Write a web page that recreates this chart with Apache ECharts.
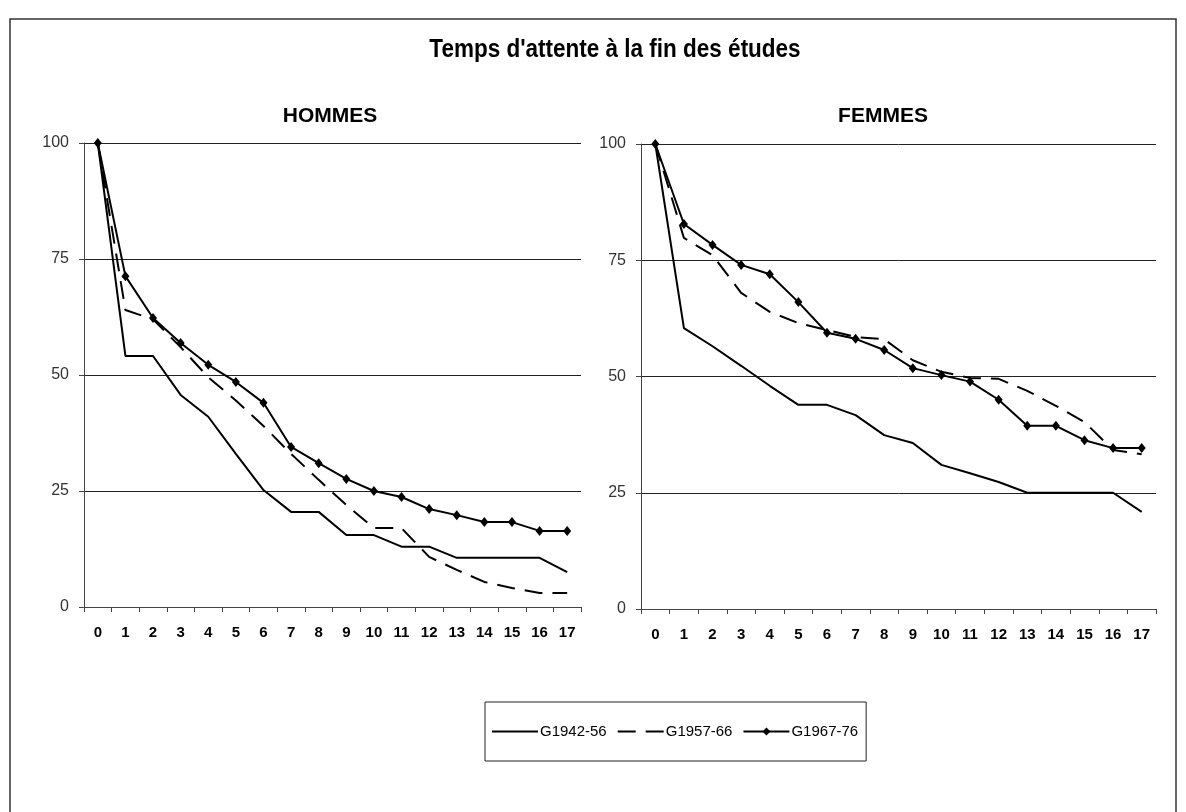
<!DOCTYPE html>
<html>
<head>
<meta charset="utf-8">
<title>Temps d'attente à la fin des études</title>
<script src="https://cdn.jsdelivr.net/npm/echarts@6/dist/echarts.min.js"></script>
<style>
  html, body { margin: 0; padding: 0; background: #fff; }
  #chart { width: 1186px; height: 812px; }
</style>
</head>
<body>
<div id="chart"></div>
<script>
// années après la fin des études
var annees = ['0', '1', '2', '3', '4', '5', '6', '7', '8', '9', '10', '11', '12', '13', '14', '15', '16', '17'];
var yTicks = [0, 25, 50, 75, 100];
var generations = ['G1942-56', 'G1957-66', 'G1967-76'];

// HOMMES
var hommes4256 = [100, 54.1, 54.1, 45.7, 41.0, 33.0, 25.2, 20.5, 20.5, 15.5, 15.5, 13.0, 13.0, 10.6, 10.6, 10.6, 10.6, 7.5];
var hommes5766 = [100, 64.0, 62.0, 56.0, 49.5, 44.5, 39.0, 33.0, 27.4, 22.0, 17.0, 17.0, 10.8, 8.0, 5.4, 4.1, 3.0, 3.0];
var hommes6776 = [100, 71.3, 62.3, 56.9, 52.2, 48.5, 44.0, 34.5, 31.0, 27.6, 25.0, 23.7, 21.1, 19.8, 18.3, 18.3, 16.4, 16.4];

// FEMMES
var femmes4256 = [100, 60.4, 56.5, 52.3, 48.0, 43.9, 43.9, 41.7, 37.4, 35.7, 31.0, 29.2, 27.3, 25.0, 25.0, 25.0, 25.0, 20.9];
var femmes5766 = [100, 79.8, 76.1, 68.0, 63.9, 61.5, 60.0, 58.5, 58.0, 53.5, 51.0, 49.7, 49.5, 46.9, 43.7, 40.2, 34.2, 33.3];
var femmes6776 = [100, 82.8, 78.3, 74.0, 72.0, 66.0, 59.4, 58.1, 55.7, 51.8, 50.3, 48.9, 45.0, 39.4, 39.4, 36.3, 34.6, 34.6];

var police = "'Liberation Sans', Arial, sans-serif";

var chart = echarts.init(document.getElementById('chart'));

function axeX(gridIndex) {
  return {
    type: 'category',
    gridIndex: gridIndex,
    data: annees,
    boundaryGap: true,
    axisLine: { lineStyle: { color: '#444', width: 1 } },
    axisTick: { show: true, length: 5, inside: false, lineStyle: { color: '#444' } },
    axisLabel: { color: '#000', fontFamily: police, fontWeight: 'bold', fontSize: 15, margin: 18, interval: 0 },
    splitLine: { show: false }
  };
}

function axeY(gridIndex) {
  return {
    type: 'value',
    gridIndex: gridIndex,
    min: yTicks[0],
    max: yTicks[yTicks.length - 1],
    interval: yTicks[1] - yTicks[0],
    axisLine: { show: true, lineStyle: { color: '#444', width: 1 } },
    axisTick: { show: true, length: 5, lineStyle: { color: '#444' } },
    axisLabel: { color: '#333', fontFamily: police, fontSize: 16, margin: 15 },
    splitLine: { show: true, lineStyle: { color: '#222', width: 1 } }
  };
}

var stylesCourbes = {
  'G1942-56': { type: 'solid', symbol: 'none' },
  'G1957-66': { type: [18, 10], symbol: 'none' },
  'G1967-76': { type: 'solid', symbol: 'diamond' }
};

function courbe(nom, idx, valeurs) {
  var s = stylesCourbes[nom];
  return {
    name: nom,
    type: 'line',
    xAxisIndex: idx,
    yAxisIndex: idx,
    data: valeurs,
    symbol: s.symbol,
    symbolSize: [8, 10],
    showSymbol: s.symbol !== 'none',
    itemStyle: { color: '#000' },
    lineStyle: { color: '#000', width: 2, type: s.type },
    animation: false
  };
}

chart.setOption({
  backgroundColor: '#fff',
  animation: false,
  graphic: [
    { type: 'rect', shape: { x: 10, y: 19, width: 1166, height: 820 },
      style: { fill: 'none', stroke: '#333', lineWidth: 1.5 }, silent: true },
    { type: 'text', x: 615, y: 50, scaleX: 0.9,
      style: { text: "Temps d'attente à la fin des études", font: 'bold 25px ' + police,
               textAlign: 'center', textVerticalAlign: 'middle', fill: '#000' } },
    { type: 'text', x: 330, y: 116,
      style: { text: 'HOMMES', font: 'bold 21px ' + police,
               textAlign: 'center', textVerticalAlign: 'middle', fill: '#000' } },
    { type: 'text', x: 883, y: 116,
      style: { text: 'FEMMES', font: 'bold 21px ' + police,
               textAlign: 'center', textVerticalAlign: 'middle', fill: '#000' } }
  ],
  legend: {
    data: generations.map(function (nom) {
      return stylesCourbes[nom].symbol === 'none'
        ? { name: nom, itemStyle: { opacity: 0 } }
        : { name: nom };
    }),
    left: 485,
    top: 702,
    itemWidth: 46,
    itemHeight: 10,
    itemGap: 10,
    padding: [22, 8, 22, 6],
    borderColor: '#222',
    borderWidth: 1,
    textStyle: { color: '#000', fontFamily: police, fontSize: 15, padding: [0, 0, 0, -3] }
  },
  grid: [
    { left: 84, top: 143, width: 497, height: 464, containLabel: false },
    { left: 641, top: 144, width: 515, height: 465, containLabel: false }
  ],
  xAxis: [axeX(0), axeX(1)],
  yAxis: [axeY(0), axeY(1)],
  series: [
    courbe('G1942-56', 0, hommes4256),
    courbe('G1957-66', 0, hommes5766),
    courbe('G1967-76', 0, hommes6776),
    courbe('G1942-56', 1, femmes4256),
    courbe('G1957-66', 1, femmes5766),
    courbe('G1967-76', 1, femmes6776)
  ]
});
</script>
</body>
</html>
